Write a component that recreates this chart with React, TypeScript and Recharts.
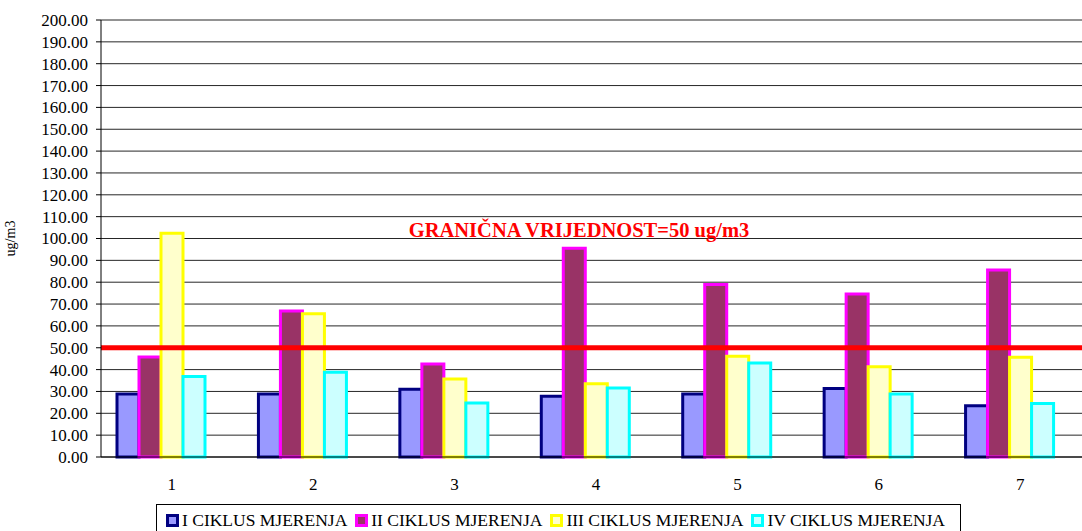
import React from "react";
import {
  BarChart,
  Bar,
  XAxis,
  YAxis,
  CartesianGrid,
  ReferenceLine,
} from "recharts";

const categories = ["1", "2", "3", "4", "5", "6", "7"];
const ciklus1 = [28.8, 28.8, 31.0, 27.8, 28.8, 31.4, 23.5];
const ciklus2 = [45.8, 66.8, 42.6, 95.5, 78.9, 74.6, 85.6];
const ciklus3 = [102.4, 65.6, 35.7, 33.5, 46.1, 41.3, 45.6];
const ciklus4 = [36.8, 38.8, 24.7, 31.6, 43.0, 28.8, 24.5];
const yTicks = [0, 10, 20, 30, 40, 50, 60, 70, 80, 90, 100, 110, 120, 130, 140, 150, 160, 170, 180, 190, 200];
const edgeTicks = [0, 1, 2, 3, 4, 5, 6, 7];
const LIMIT = 50;
const LIMIT_LABEL_AT = 104;
const LIMIT_TEXT = "GRANIČNA VRIJEDNOST=50 ug/m3";

const series = [
  { key: "c1", name: "I CIKLUS MJERENJA", fill: "#9999FF", stroke: "#000080", values: ciklus1 },
  { key: "c2", name: "II CIKLUS MJERENJA", fill: "#993366", stroke: "#FF00FF", values: ciklus2 },
  { key: "c3", name: "III CIKLUS MJERENJA", fill: "#FFFFCC", stroke: "#FFFF00", values: ciklus3 },
  { key: "c4", name: "IV CIKLUS MJERENJA", fill: "#CCFFFF", stroke: "#00FFFF", values: ciklus4 },
];

const data = categories.map((c, i) => {
  const row: Record<string, string | number> = { name: c };
  series.forEach((s) => (row[s.key] = s.values[i]));
  return row;
});

const font = "Liberation Serif";
const tickStyle = { fontSize: "17px", fontFamily: font, fill: "#000" };

const YTick = ({ x, y, payload }: any) => (
  <text x={x} y={y} dy="0.35em" textAnchor="end" style={tickStyle}>
    {Number(payload.value).toFixed(2)}
  </text>
);

const XTick = ({ x, y, payload }: any) => (
  <text x={x} y={y} dy="0.71em" textAnchor="middle" style={tickStyle}>
    {payload.value}
  </text>
);

export default function App() {
  return (
    <div
      style={{
        position: "absolute",
        left: 0,
        top: 0,
        width: 1082,
        height: 531,
        overflow: "hidden",
        background: "#fff",
        fontFamily: font,
      }}
    >
      <BarChart
        width={1091}
        height={531}
        data={data}
        margin={{ top: 20, right: 0, bottom: 44, left: 0 }}
        barCategoryGap={16}
        barGap={0}
        style={{ fontFamily: font }}
      >
        <CartesianGrid vertical={false} stroke="#000" strokeOpacity={0.85} />
        <XAxis
          xAxisId="edge"
          type="number"
          domain={[0, 7]}
          ticks={edgeTicks}
          tick={false}
          axisLine={false}
          tickLine={{ stroke: "#000" }}
          tickSize={6}
          height={0}
        />
        <XAxis
          dataKey="name"
          tickLine={false}
          axisLine={{ stroke: "#000" }}
          tickSize={0}
          tickMargin={21}
          height={30}
          tick={XTick}
        />
        <YAxis
          width={101}
          domain={[0, 200]}
          ticks={yTicks}
          interval={0}
          tickSize={5}
          tickMargin={8}
          axisLine={{ stroke: "#000" }}
          tickLine={{ stroke: "#000" }}
          tick={YTick}
          label={{
            value: "ug/m3",
            angle: -90,
            position: "insideLeft",
            offset: 10,
            style: { fill: "#000", fontSize: 14, fontFamily: font, textAnchor: "middle" },
          }}
        />
        {series.map((s) => (
          <Bar
            key={s.key}
            dataKey={s.key}
            name={s.name}
            fill={s.fill}
            stroke={s.stroke}
            strokeWidth={3}
            isAnimationActive={false}
          />
        ))}
        {/* empty slot: Excel leaves room for a fifth bar on the right */}
        <Bar dataKey="spacer" fill="none" legendType="none" isAnimationActive={false} />
        <ReferenceLine y={LIMIT} stroke="#FF0000" strokeWidth={5} />
        <ReferenceLine
          y={LIMIT_LABEL_AT}
          stroke="none"
          label={{
            value: LIMIT_TEXT,
            position: "center",
            dx: -17,
            style: { fill: "#FF0000", fontSize: 20.5, fontWeight: "bold", fontFamily: font },
          }}
        />
      </BarChart>
      <div
        style={{
          position: "absolute",
          left: 156,
          top: 504,
          width: 805,
          height: 30,
          border: "1px solid #000",
          display: "flex",
          alignItems: "flex-start",
          paddingLeft: 9,
          paddingTop: 5,
          boxSizing: "border-box",
          fontSize: 17.5,
          lineHeight: "20px",
          color: "#000",
          whiteSpace: "nowrap",
        }}
      >
        {series.map((s) => (
          <span key={s.key} style={{ display: "inline-flex", alignItems: "center", marginRight: 8 }}>
            <span
              style={{
                display: "inline-block",
                width: 7,
                height: 7,
                background: s.fill,
                border: `3px solid ${s.stroke}`,
                marginRight: 3,
              }}
            />
            {s.name}
          </span>
        ))}
      </div>
    </div>
  );
}
